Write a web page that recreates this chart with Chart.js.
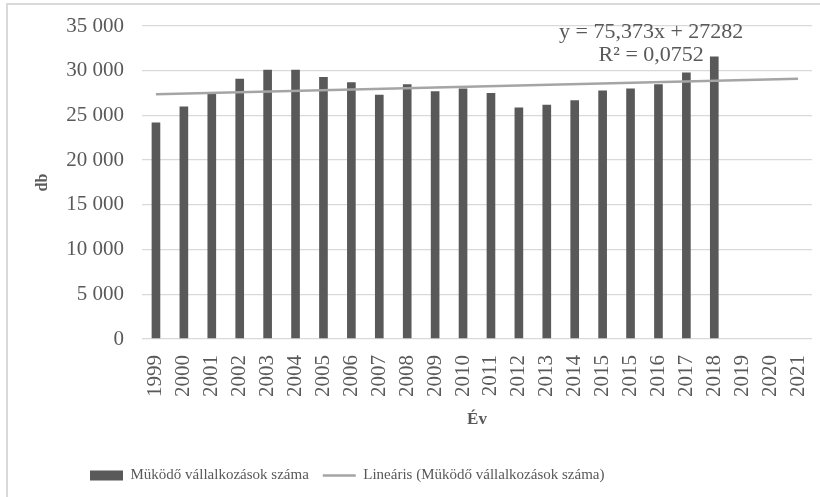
<!DOCTYPE html>
<html>
<head>
<meta charset="utf-8">
<script src="https://cdn.jsdelivr.net/npm/chart.js@4"></script>
<style>
  html, body { margin: 0; padding: 0; background: #fff; }
  #wrap { position: relative; width: 820px; height: 497px; overflow: hidden; }
  #frame { position: absolute; left: 6px; top: 3px; width: 830px; height: 510px;
           border-left: 2px solid #d9d9d9; border-top: 2px solid #d9d9d9; box-sizing: border-box; }
  canvas { position: absolute; left: 0; top: 0; }
</style>
</head>
<body>
<div id="wrap">
  <div id="frame"></div>
  <canvas id="c" width="820" height="497"></canvas>
</div>
<script>
const categories = ['1999','2000','2001','2002','2003','2004','2005','2006','2007','2008','2009','2010',
  '2011','2012','2013','2014','2015','2015','2016','2017','2018','2019','2020','2021'];
const enterpriseCounts = [24200, 26000, 27400, 29100, 30100, 30100, 29300, 28700, 27300, 28500, 27700, 28000,
  27500, 25900, 26200, 26700, 27800, 28000, 28500, 29800, 31600, null, null, null];
// Linear trendline endpoints (y = 75,373x + 27282 at x = 1 and x = 24)
const trendValues = [27357, null, null, null, null, null, null, null, null, null, null, null,
  null, null, null, null, null, null, null, null, null, null, null, 29091];
const yTicks = [0, 5000, 10000, 15000, 20000, 25000, 30000, 35000];
const equationLines = ['y = 75,373x + 27282', 'R² = 0,0752'];
const seriesName = 'Müködő vállalkozások száma';
const trendName = 'Lineáris (Müködő vállalkozások száma)';

const SERIF = '"Liberation Serif", "Times New Roman", serif';
const TXT = '#595959';

const fmt = v => String(v).replace(/\B(?=(\d{3})+(?!\d))/g, ' ');

const equationPlugin = {
  id: 'equation',
  afterDatasetsDraw(chart) {
    const {ctx, chartArea, scales} = chart;
    const x = chartArea.left + 0.76 * (chartArea.right - chartArea.left);
    ctx.save();
    ctx.font = '22px ' + SERIF;
    ctx.fillStyle = TXT;
    ctx.textAlign = 'center';
    ctx.textBaseline = 'middle';
    ctx.fillText(equationLines[0], x, scales.y.getPixelForValue(34300));
    ctx.fillText(equationLines[1], x, scales.y.getPixelForValue(31700));
    ctx.restore();
  }
};

const legendShiftPlugin = {
  id: 'legendShift',
  afterLayout(chart) {
    if (chart.legend) chart.legend.left = 76;
  }
};

new Chart(document.getElementById('c'), {
  data: {
    labels: categories,
    datasets: [
      {
        type: 'bar',
        label: seriesName,
        data: enterpriseCounts,
        backgroundColor: '#595959',
        borderWidth: 0,
        barPercentage: 0.31,
        categoryPercentage: 1.0,
        order: 1,
        pointStyle: 'rect'
      },
      {
        type: 'line',
        label: trendName,
        data: trendValues,
        spanGaps: true,
        borderColor: '#a5a5a5',
        backgroundColor: '#a5a5a5',
        borderWidth: 2.5,
        pointRadius: 0,
        fill: false,
        order: 0,
        pointStyle: 'line'
      }
    ]
  },
  options: {
    responsive: false,
    animation: false,
    devicePixelRatio: 1,
    layout: { padding: { left: 20, right: 8, top: 26, bottom: 4 } },
    plugins: {
      legend: {
        position: 'bottom',
        align: 'start',
        labels: {
          usePointStyle: true,
          pointStyleWidth: 33,
          boxHeight: 10,
          color: TXT,
          font: { family: SERIF, size: 15 },
          padding: 14,
          sort: (a, b) => a.datasetIndex - b.datasetIndex
        }
      },
      tooltip: { enabled: false }
    },
    scales: {
      x: {
        grid: { display: false, drawTicks: false },
        border: { display: false },
        ticks: {
          color: TXT,
          font: { family: SERIF, size: 21 },
          minRotation: 90,
          maxRotation: 90,
          autoSkip: false,
          padding: 16
        },
        title: {
          display: true,
          text: 'Év',
          color: TXT,
          font: { family: SERIF, size: 17, weight: 'bold' },
          padding: { top: 0, bottom: 24 }
        },
        afterFit(scale) { scale.height = 115; scale.paddingLeft = 0; scale.paddingRight = 0; }
      },
      y: {
        min: 0,
        max: 35000,
        afterBuildTicks(scale) { scale.ticks = yTicks.map(v => ({ value: v })); },
        grid: { color: '#d9d9d9', lineWidth: 1.3, drawTicks: false },
        border: { display: false },
        ticks: {
          color: TXT,
          font: { family: SERIF, size: 21 },
          padding: 18,
          callback: v => fmt(v)
        },
        title: {
          display: true,
          text: 'db',
          color: TXT,
          font: { family: SERIF, size: 16, weight: 'bold' },
          padding: { top: 13, bottom: 0 }
        },
        afterFit(scale) { scale.width = 122; scale.paddingTop = 0; scale.paddingBottom = 0; }
      }
    }
  },
  plugins: [equationPlugin, legendShiftPlugin]
});
</script>
</body>
</html>
